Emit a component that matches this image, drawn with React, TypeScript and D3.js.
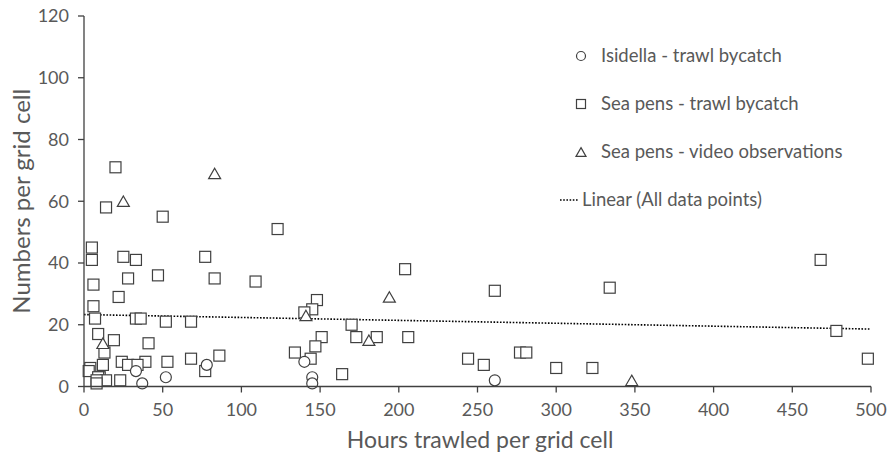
import { scaleLinear } from 'd3';

const isidellaX = [33, 37, 52, 78, 140, 145, 145, 261];
const isidellaY = [5, 1, 3, 7, 8, 3, 1, 2];

const trawlX = [20, 14, 50, 123, 5, 5, 25, 33, 77, 468, 204, 28, 47, 83, 109, 6, 334, 261, 22, 148, 6, 145, 140, 7, 33, 36, 52, 68, 170, 478, 9, 151, 173, 186, 206, 19, 41, 147, 13, 134, 277, 281, 86, 68, 144, 244, 498, 24, 39, 53, 28, 34, 12, 254, 4, 3, 300, 323, 77, 164, 10, 9, 14, 23, 8, 8];
const trawlY = [71, 58, 55, 51, 45, 41, 42, 41, 42, 41, 38, 35, 36, 35, 34, 33, 32, 31, 29, 28, 26, 25, 24, 22, 22, 22, 21, 21, 20, 18, 17, 16, 16, 16, 16, 15, 14, 13, 11, 11, 11, 11, 10, 9, 9, 9, 9, 8, 8, 8, 7, 7, 7, 7, 6, 5, 6, 6, 5, 4, 3, 3, 2, 2, 2, 1];

const videoX = [83, 25, 194, 141, 181, 12, 348];
const videoY = [69, 60, 29, 23, 15, 14, 2];

// linear trend (all data points) at both ends
const trendX = [0, 500];
const trendY = [23.3, 18.6];

const xTicks = [0, 50, 100, 150, 200, 250, 300, 350, 400, 450, 500];
const yTicks = [0, 20, 40, 60, 80, 100, 120];

const legendLabels = ['Isidella - trawl bycatch', 'Sea pens - trawl bycatch', 'Sea pens - video observations', 'Linear (All data points)'];

const W = 887;
const H = 455;
const font = 'Lato, "Open Sans", sans-serif';
const ink = '#404040';
const txt = '#595959';

const Square = ({ cx, cy, s }: { cx: number; cy: number; s: number }) => (
  <rect x={cx - s / 2} y={cy - s / 2} width={s} height={s} fill="#fff" stroke={ink} strokeWidth={1.2} />
);
const Circle = ({ cx, cy, r }: { cx: number; cy: number; r: number }) => (
  <circle cx={cx} cy={cy} r={r} fill="#fff" stroke={ink} strokeWidth={1.2} />
);
const Tri = ({ cx, cy, s }: { cx: number; cy: number; s: number }) => {
  const h = s * 0.87;
  return (
    <path d={`M${cx},${cy - h / 2}L${cx + s / 2},${cy + h / 2}L${cx - s / 2},${cy + h / 2}Z`} fill="#fff" stroke={ink} strokeWidth={1.2} />
  );
};

export default function App() {
  const x = scaleLinear().domain([0, 500]).range([84, 871]);
  const y = scaleLinear().domain([0, 120]).range([386.5, 16]);
  const legendY = [56, 104, 152, 200];

  return (
    <svg width={W} height={H} style={{ position: 'absolute', left: 0, top: 0, background: '#fff' }} fontFamily={font}>
      <line x1={x(trendX[0])} y1={y(trendY[0])} x2={x(trendX[1])} y2={y(trendY[1])} stroke="#000" strokeWidth={1.6} strokeDasharray="1.6,1.6" />

      {trawlX.map((d, i) => <Square key={'s' + i} cx={x(d)} cy={y(trawlY[i])} s={11} />)}
      {isidellaX.map((d, i) => <Circle key={'c' + i} cx={x(d)} cy={y(isidellaY[i])} r={5.5} />)}
      {videoX.map((d, i) => <Tri key={'t' + i} cx={x(d)} cy={y(videoY[i])} s={12} />)}

      {/* axes */}
      <line x1={x(0)} y1={y(0)} x2={x(500)} y2={y(0)} stroke={ink} strokeWidth={1.3} />
      <line x1={x(0)} y1={y(0)} x2={x(0)} y2={y(120)} stroke={ink} strokeWidth={1.3} />
      {xTicks.map(t => (
        <g key={'xt' + t}>
          <line x1={x(t)} x2={x(t)} y1={y(0)} y2={y(0) + 6} stroke={ink} strokeWidth={1.3} />
          <text x={x(t)} y={y(0) + 29} textAnchor="middle" fontSize={18} fill={txt}>{t}</text>
        </g>
      ))}
      {yTicks.map(t => (
        <g key={'yt' + t}>
          <line x1={x(0) - 6} x2={x(0)} y1={y(t)} y2={y(t)} stroke={ink} strokeWidth={1.3} />
          <text x={x(0) - 15} y={y(t)} dy="0.35em" textAnchor="end" fontSize={18} fill={txt}>{t}</text>
        </g>
      ))}

      <text x={480} y={448} textAnchor="middle" fontSize={23} fill={txt}>Hours trawled per grid cell</text>
      <text transform={`translate(30,${(y(0) + y(120)) / 2}) rotate(-90)`} textAnchor="middle" fontSize={24} fill={txt}>Numbers per grid cell</text>

      {/* legend */}
      <Circle cx={581} cy={legendY[0]} r={4.5} />
      <Square cx={581} cy={legendY[1]} s={9} />
      <Tri cx={581} cy={legendY[2]} s={10} />
      <line x1={560} x2={578} y1={legendY[3]} y2={legendY[3]} stroke="#000" strokeWidth={1.6} strokeDasharray="1.6,1.6" />
      {legendLabels.map((l, i) => (
        <text key={l} x={i === 3 ? 582 : 601} y={legendY[i]} dy="0.35em" fontSize={18.5} fill={txt}>{l}</text>
      ))}
    </svg>
  );
}
